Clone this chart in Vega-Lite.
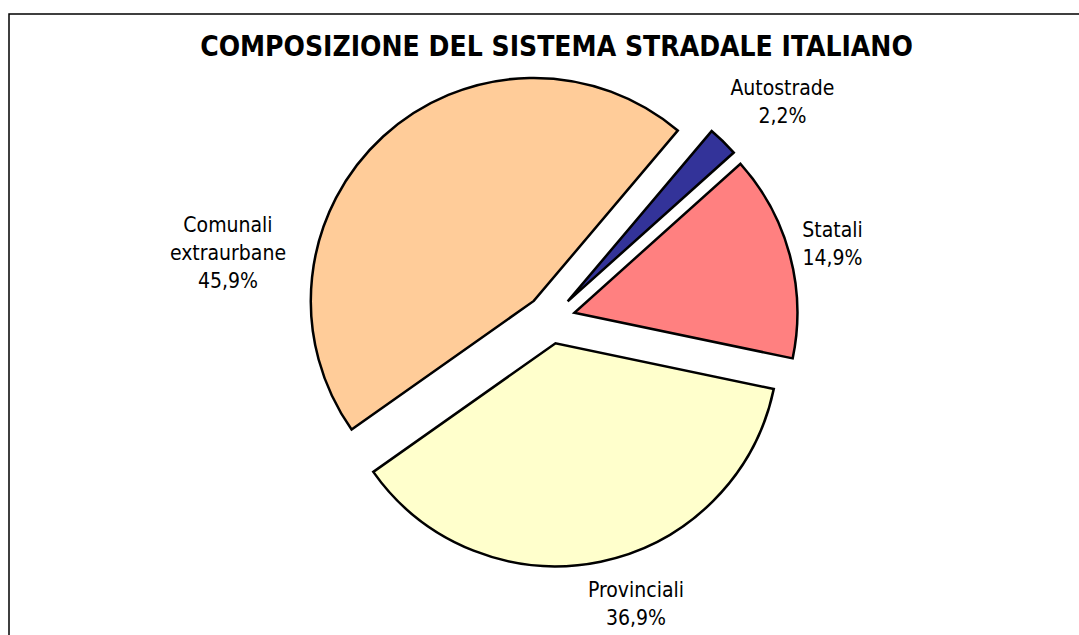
{
  "$schema": "https://vega.github.io/schema/vega-lite/v6.json",
  "width": 1083,
  "height": 640,
  "padding": {"left": 9, "top": 14, "right": 0, "bottom": 0},
  "autosize": {"type": "none"},
  "background": "white",
  "view": {"stroke": "#000000", "strokeWidth": 1.5},
  "config": {
    "view": {"stroke": "#000000", "strokeWidth": 1.5},
    "font": "DejaVu Sans Condensed"
  },
  "title": {
    "text": "COMPOSIZIONE DEL SISTEMA STRADALE ITALIANO",
    "font": "DejaVu Sans Condensed",
    "fontWeight": "bold",
    "fontSize": 28,
    "color": "#000000",
    "anchor": "middle",
    "baseline": "alphabetic",
    "offset": -70,
    "dx": 6
  },
  "data": {
    "values": [
      {"categoria": "Autostrade", "quota": 2.2, "etichetta": "Autostrade\n2,2%", "ordine": 1},
      {"categoria": "Statali", "quota": 14.9, "etichetta": "Statali\n14,9%", "ordine": 2},
      {"categoria": "Provinciali", "quota": 36.9, "etichetta": "Provinciali\n36,9%", "ordine": 3},
      {"categoria": "Comunali extraurbane", "quota": 45.9, "etichetta": "Comunali\nextraurbane\n45,9%", "ordine": 4}
    ]
  },
  "encoding": {
    "theta": {"field": "quota", "type": "quantitative", "stack": true, "scale": {"type": "linear", "domain": [0, 99.9], "range": [0.7016, 6.9848]}},
    "order": {"field": "ordine", "type": "quantitative"},
    "color": {"field": "categoria", "type": "nominal", "legend": null, "scale": {"domain": ["Autostrade", "Statali", "Provinciali", "Comunali extraurbane"], "range": ["#333399", "#FF8080", "#FFFFCC", "#FFCC99"]}}
  },
  "layer": [
    {
      "mark": {"type": "arc", "radius": 223, "stroke": "#000000", "strokeWidth": 2.5, "strokeJoin": "miter", "xOffset": 17.2, "yOffset": -32.6},
      "encoding": {"opacity": {"condition": {"test": "datum.categoria === 'Autostrade'", "value": 1}, "value": 0}}
    },
    {
      "mark": {"type": "arc", "radius": 223, "stroke": "#000000", "strokeWidth": 2.5, "strokeJoin": "miter", "xOffset": 23.9, "yOffset": -21.3},
      "encoding": {"opacity": {"condition": {"test": "datum.categoria === 'Statali'", "value": 1}, "value": 0}}
    },
    {
      "mark": {"type": "arc", "radius": 223, "stroke": "#000000", "strokeWidth": 2.5, "strokeJoin": "miter", "xOffset": 5.0, "yOffset": 9.3},
      "encoding": {"opacity": {"condition": {"test": "datum.categoria === 'Provinciali'", "value": 1}, "value": 0}}
    },
    {
      "mark": {"type": "arc", "radius": 223, "stroke": "#000000", "strokeWidth": 2.5, "strokeJoin": "miter", "xOffset": -16.7, "yOffset": -33.1},
      "encoding": {"opacity": {"condition": {"test": "datum.categoria === 'Comunali extraurbane'", "value": 1}, "value": 0}}
    },
    {
      "mark": {"type": "text", "radius": 290, "align": "center", "baseline": "alphabetic", "fontSize": 21, "font": "DejaVu Sans Condensed", "lineHeight": 28, "lineBreak": "\n", "color": "#000000", "dx": 29.9, "dy": -31},
      "encoding": {"text": {"field": "etichetta", "type": "nominal"}, "color": {"value": "#000000"}, "opacity": {"condition": {"test": "datum.categoria === 'Autostrade'", "value": 1}, "value": 0}}
    },
    {
      "mark": {"type": "text", "radius": 290, "align": "center", "baseline": "alphabetic", "fontSize": 21, "font": "DejaVu Sans Condensed", "lineHeight": 28, "lineBreak": "\n", "color": "#000000", "dx": 1.9, "dy": -22.1},
      "encoding": {"text": {"field": "etichetta", "type": "nominal"}, "color": {"value": "#000000"}, "opacity": {"condition": {"test": "datum.categoria === 'Statali'", "value": 1}, "value": 0}}
    },
    {
      "mark": {"type": "text", "radius": 290, "align": "center", "baseline": "alphabetic", "fontSize": 21, "font": "DejaVu Sans Condensed", "lineHeight": 28, "lineBreak": "\n", "color": "#000000", "dx": 26.7, "dy": -21.3},
      "encoding": {"text": {"field": "etichetta", "type": "nominal"}, "color": {"value": "#000000"}, "opacity": {"condition": {"test": "datum.categoria === 'Provinciali'", "value": 1}, "value": 0}}
    },
    {
      "mark": {"type": "text", "radius": 290, "align": "center", "baseline": "alphabetic", "fontSize": 21, "font": "DejaVu Sans Condensed", "lineHeight": 28, "lineBreak": "\n", "color": "#000000", "dx": -126.6, "dy": 111.5},
      "encoding": {"text": {"field": "etichetta", "type": "nominal"}, "color": {"value": "#000000"}, "opacity": {"condition": {"test": "datum.categoria === 'Comunali extraurbane'", "value": 1}, "value": 0}}
    }
  ]
}
